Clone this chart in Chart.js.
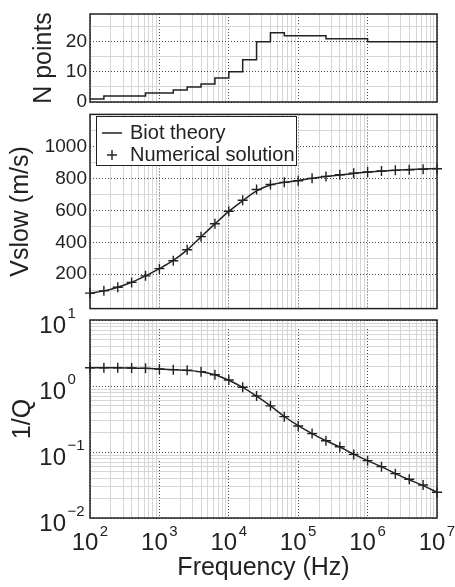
<!DOCTYPE html>
<html>
<head>
<meta charset="utf-8">
<script src="https://cdn.jsdelivr.net/npm/chart.js@4.4.1/dist/chart.umd.min.js"></script>
<style>
  body { margin: 0; background: #fff; }
  #wrap { position: relative; width: 455px; height: 587px; }
  canvas { position: absolute; left: 0; }
</style>
</head>
<body>
<div id="wrap">
  <canvas id="c1" width="455" height="108" style="top:0px"></canvas>
  <canvas id="c2" width="455" height="207" style="top:108px"></canvas>
  <canvas id="c3" width="455" height="287" style="top:300px"></canvas>
</div>
<script>
'use strict'
// frequencies of the numerical runs, 5 per decade
let freqs = [100, 158.5, 251.2, 398.1, 631, 1000, 1585, 2512, 3981, 6310,
        10000, 15850, 25120, 39810, 63100, 100000, 158500, 251200, 398100, 631000,
        1000000, 1585000, 2512000, 3981000, 6310000, 10000000],
    nPoints = [1, 2, 2, 2, 3, 3, 4, 5, 6, 8, 10, 14, 20, 23, 22, 22, 22, 21, 21, 21,
        20, 20, 20, 20, 20, 20],
    vslowBiot = [80, 96, 119, 150, 190, 235, 286, 352, 434, 515, 593, 660, 722, 758,
        775, 787, 800, 811, 821, 831, 839, 846, 851, 855, 858, 861],
    vslowNum = [82, 96, 119, 149, 190, 235, 284, 353, 435, 516, 594, 663, 730, 761,
        775, 785, 800, 812, 822, 832, 840, 846, 850, 854, 857, 860],
    invQBiot = [1.89, 1.89, 1.89, 1.87, 1.85, 1.81, 1.77, 1.72, 1.64, 1.48, 1.22, 0.95,
        0.7, 0.5, 0.345, 0.25, 0.19, 0.148, 0.119, 0.093, 0.074, 0.06, 0.047, 0.038, 0.031, 0.0245],
    invQNum = [1.89, 1.89, 1.89, 1.87, 1.85, 1.81, 1.77, 1.73, 1.65, 1.48, 1.23, 0.955,
        0.705, 0.5, 0.343, 0.248, 0.19, 0.148, 0.12, 0.092, 0.074, 0.06, 0.047, 0.0386, 0.0316, 0.0245],
    xTickValues = [1e2, 1e3, 1e4, 1e5, 1e6, 1e7],
    xTickExps = ['2', '3', '4', '5', '6', '7'],
    qTickValues = [0.01, 0.1, 1, 10],
    qTickExps = ['\u22122', '\u22121', '0', '1'],
    nTickLabels = [0, 10, 20],
    vTickLabels = [200, 400, 600, 800, 1000]

const INK = '#222'
const FONT = "'Liberation Sans', Arial, Helvetica, sans-serif"

let pts = function (ys) {
    return freqs.map((f, i) => ({x: f, y: ys[i]}))
}

// grid positions 1..9 x 10^n
let logGrid = function (lo, hi) {
    let out = []
    for (let n = lo; n < hi; n++) {
        for (let k = 1; k < 10; k++) {
            out.push({value: k * Math.pow(10, n), dec: k === 1})
        }
    }
    out.push({value: Math.pow(10, hi), dec: true})
    return out
}

let linGrid = function (from, to, step, majorStep) {
    let out = []
    for (let v = from; v <= to; v += step) out.push({value: v, dec: v % majorStep === 0})
    return out
}

let isIn = function (vals, v) {
    return vals.some(t => Math.abs(t - v) / Math.abs(t) < 1e-6)
}

let gridStyle = {
    color: (c) => c.tick && c.tick.dec ? '#444' : '#d6d6d6',
    lineWidth: 1,
    drawTicks: false
}
let borderStyle = {
    display: false,
    dash: (c) => c.tick && c.tick.dec ? [1, 2] : []
}

let frame = {
    id: 'frame',
    afterDraw(chart) {
        let a = chart.chartArea, ctx = chart.ctx
        ctx.save()
        ctx.strokeStyle = INK
        ctx.lineWidth = 1.5
        ctx.strokeRect(a.left, a.top, a.right - a.left, a.bottom - a.top)
        ctx.restore()
    }
}

let legendBox = {
    id: 'legendBox',
    afterDraw(chart) {
        let ctx = chart.ctx
        ctx.save()
        ctx.fillStyle = '#fff'
        ctx.fillRect(96.5, 8.5, 200, 49)
        ctx.strokeStyle = INK
        ctx.lineWidth = 1
        ctx.strokeRect(96.5, 8.5, 200, 49)
        ctx.lineWidth = 1.4
        ctx.beginPath()
        ctx.moveTo(102, 25)
        ctx.lineTo(122, 25)
        ctx.moveTo(107, 47)
        ctx.lineTo(117, 47)
        ctx.moveTo(112, 42)
        ctx.lineTo(112, 52)
        ctx.stroke()
        ctx.fillStyle = INK
        ctx.font = '20px ' + FONT
        ctx.textBaseline = 'middle'
        ctx.fillText('Biot theory', 130, 25)
        ctx.fillText('Numerical solution', 130, 47)
        ctx.restore()
    }
}

// the axes print "10", the exponent goes up and to the right of it
let exponents = {
    id: 'exponents',
    afterDraw(chart) {
        let ctx = chart.ctx, x = chart.scales.x, y = chart.scales.y
        ctx.save()
        ctx.font = '24px ' + FONT
        let w = ctx.measureText('10').width
        ctx.font = '15px ' + FONT
        ctx.fillStyle = INK
        ctx.textBaseline = 'middle'
        ctx.textAlign = 'left'
        xTickValues.forEach((v, i) => {
            let px = x.getPixelForValue(v) - 5 + w / 2 + 1.5
            ctx.fillText(xTickExps[i], px, x.top + 11 + 14.4 - 12)
        })
        qTickValues.forEach((v, i) => {
            ctx.fillText(qTickExps[i], y.right - 24 + 1.5, y.getPixelForValue(v) + 6 - 12.5)
        })
        ctx.restore()
    }
}

let xAxis = function (showLabels) {
    return {
        type: 'logarithmic',
        min: 100,
        max: 1e7,
        afterBuildTicks: (s) => { s.ticks = logGrid(2, 7) },
        afterFit: (s) => {
            s.height = showLabels ? 69 : 0
            s.paddingLeft = 0
            s.paddingRight = 0
        },
        grid: gridStyle,
        border: borderStyle,
        ticks: {
            display: showLabels,
            autoSkip: false,
            maxRotation: 0,
            padding: 11,
            labelOffset: -5,
            color: INK,
            font: {family: FONT, size: 24},
            callback: (v) => isIn(xTickValues, v) ? '10' : ''
        },
        title: {
            display: showLabels,
            text: 'Frequency (Hz)',
            color: INK,
            font: {family: FONT, size: 25},
            padding: {top: 0, bottom: 4}
        }
    }
}

let yTitle = function (text, pad) {
    return {
        display: true,
        text: text,
        color: INK,
        font: {family: FONT, size: 25},
        padding: {top: pad, bottom: 0}
    }
}

let fitY = function (s) {
    s.width = 90
    s.paddingTop = 0
    s.paddingBottom = 0
}

let base = function (pad) {
    return {
        responsive: false,
        animation: false,
        devicePixelRatio: 1,
        layout: {padding: pad},
        plugins: {legend: {display: false}, tooltip: {enabled: false}}
    }
}

// N points
new Chart(document.getElementById('c1'), {
    type: 'line',
    data: {
        datasets: [{
            data: pts(nPoints),
            stepped: 'before',
            borderColor: INK,
            borderWidth: 1.5,
            pointRadius: 0,
            clip: false
        }]
    },
    options: Object.assign(base({left: 0, right: 18, top: 14, bottom: 6}), {
        scales: {
            x: xAxis(false),
            y: {
                min: 0,
                max: 29.2,
                afterBuildTicks: (s) => { s.ticks = linGrid(0, 25, 5, 10) },
                afterFit: fitY,
                grid: gridStyle,
                border: borderStyle,
                ticks: {
                    autoSkip: false,
                    padding: 3,
                    color: INK,
                    font: {family: FONT, size: 19},
                    callback: (v) => nTickLabels.includes(v) ? String(v) : ''
                },
                title: yTitle('N points', 29)
            }
        }
    }),
    plugins: [frame]
})

// Vslow
new Chart(document.getElementById('c2'), {
    type: 'line',
    data: {
        datasets: [{
            label: 'Biot theory',
            data: pts(vslowBiot),
            borderColor: INK,
            borderWidth: 1.5,
            pointRadius: 0,
            cubicInterpolationMode: 'monotone',
            clip: false
        }, {
            label: 'Numerical solution',
            data: pts(vslowNum),
            showLine: false,
            pointStyle: 'cross',
            pointRadius: 5,
            borderColor: INK,
            borderWidth: 1.4,
            clip: false
        }]
    },
    options: Object.assign(base({left: 0, right: 18, top: 4, bottom: 4}), {
        scales: {
            x: xAxis(false),
            y: {
                min: -15,
                max: 1200,
                afterBuildTicks: (s) => { s.ticks = linGrid(100, 1200, 100, 200) },
                afterFit: fitY,
                grid: gridStyle,
                border: borderStyle,
                ticks: {
                    autoSkip: false,
                    padding: 3,
                    color: INK,
                    font: {family: FONT, size: 19},
                    callback: (v) => vTickLabels.includes(v) ? String(v) : ''
                },
                title: yTitle('Vslow (m/s)', 6)
            }
        }
    }),
    plugins: [frame, legendBox]
})

// 1/Q
new Chart(document.getElementById('c3'), {
    type: 'line',
    data: {
        datasets: [{
            label: 'Biot theory',
            data: pts(invQBiot),
            borderColor: INK,
            borderWidth: 1.5,
            pointRadius: 0,
            cubicInterpolationMode: 'monotone',
            clip: false
        }, {
            label: 'Numerical solution',
            data: pts(invQNum),
            showLine: false,
            pointStyle: 'cross',
            pointRadius: 5,
            borderColor: INK,
            borderWidth: 1.4,
            clip: false
        }]
    },
    options: Object.assign(base({left: 0, right: 18, top: 20, bottom: 0}), {
        scales: {
            x: xAxis(true),
            y: {
                type: 'logarithmic',
                min: 0.01,
                max: 10,
                afterBuildTicks: (s) => { s.ticks = logGrid(-2, 1) },
                afterFit: fitY,
                grid: gridStyle,
                border: borderStyle,
                ticks: {
                    autoSkip: false,
                    padding: 24,
                    labelOffset: 6,
                    color: INK,
                    font: {family: FONT, size: 24},
                    callback: (v) => isIn(qTickValues, v) ? '10' : ''
                },
                title: yTitle('1/Q', 8)
            }
        }
    }),
    plugins: [frame, exponents]
})
</script>
</body>
</html>
